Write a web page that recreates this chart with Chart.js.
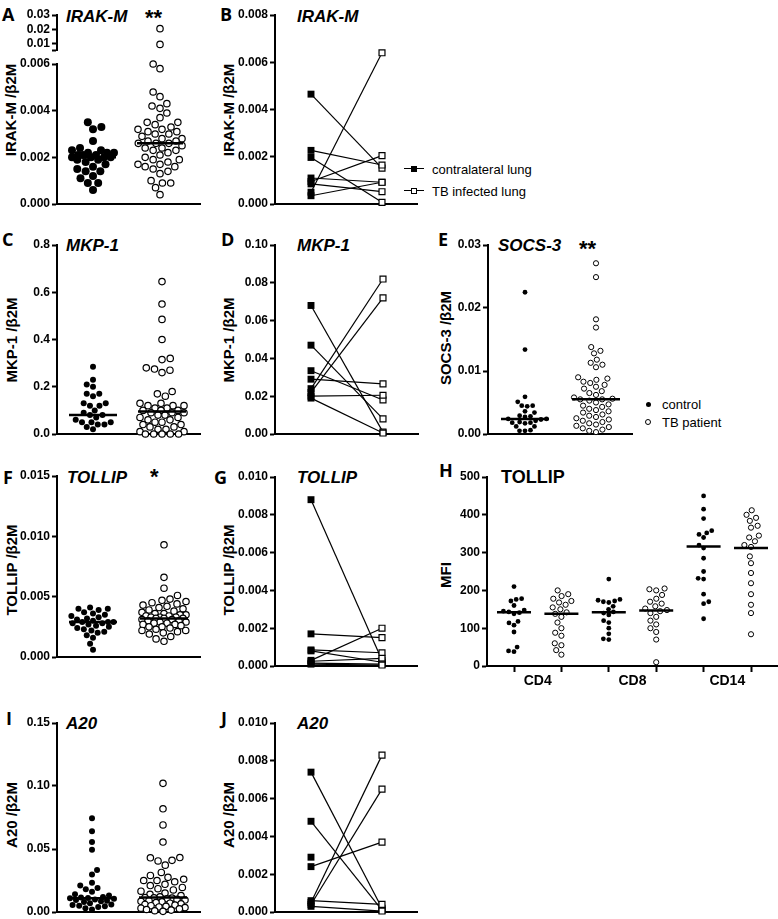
<!DOCTYPE html>
<html lang="en">
<head>
<meta charset="UTF-8">
<title>Negative regulators in TB</title>
<script src="https://cdn.jsdelivr.net/npm/chart.js"></script>
<style>
  body { margin: 0; background: #fff; }
  #fig { position: relative; width: 778px; height: 919px; overflow: hidden; font-family: "Liberation Sans", Arial, sans-serif; color: #000; }
  #fig canvas { position: absolute; }
  .lab { position: absolute; font-family: "Open Sans", sans-serif; font-weight: 700; font-size: 18px; line-height: 1; transform: translateY(-50%); }
  .gene { position: absolute; font-weight: 700; font-style: italic; font-size: 17px; line-height: 1; transform: translateY(-50%); white-space: nowrap; }
  .star { position: absolute; font-weight: 700; font-size: 22px; line-height: 1; }
  .ytl { position: absolute; font-weight: 700; font-size: 15px; line-height: 1; white-space: nowrap; transform: translate(-50%, -50%) rotate(-90deg); }
  .key { position: absolute; font-size: 13px; line-height: 1; white-space: nowrap; transform: translateY(-50%); }
  .mk { position: absolute; box-sizing: border-box; }
</style>
</head>
<body>
<div id="fig">
  <div class="lab" style="left:2px;top:14px">A</div>
  <div class="lab" style="left:220px;top:14px">B</div>
  <div class="lab" style="left:2px;top:239px">C</div>
  <div class="lab" style="left:221px;top:239px">D</div>
  <div class="lab" style="left:438px;top:239px">E</div>
  <div class="lab" style="left:3px;top:477px">F</div>
  <div class="lab" style="left:214px;top:477px">G</div>
  <div class="lab" style="left:439px;top:470px">H</div>
  <div class="lab" style="left:6px;top:718px">I</div>
  <div class="lab" style="left:221px;top:718px">J</div>

  <div class="gene" style="left:66px;top:16px">IRAK-M</div>
  <div class="gene" style="left:297px;top:16px">IRAK-M</div>
  <div class="gene" style="left:66px;top:245px">MKP-1</div>
  <div class="gene" style="left:297px;top:245px">MKP-1</div>
  <div class="gene" style="left:498px;top:245px">SOCS-3</div>
  <div class="gene" style="left:67px;top:477px">TOLLIP</div>
  <div class="gene" style="left:297px;top:477px">TOLLIP</div>
  <div class="gene" style="left:501px;top:477px;font-style:normal;font-size:18px">TOLLIP</div>
  <div class="gene" style="left:66px;top:723px">A20</div>
  <div class="gene" style="left:297px;top:723px">A20</div>

  <div class="star" style="left:145px;top:7px">**</div>
  <div class="star" style="left:579px;top:238px">**</div>
  <div class="star" style="left:150px;top:466px">*</div>

  <div class="ytl" style="left:10px;top:110px">IRAK-M /β2M</div>
  <div class="ytl" style="left:228px;top:110px">IRAK-M /β2M</div>
  <div class="ytl" style="left:11px;top:340px">MKP-1 /β2M</div>
  <div class="ytl" style="left:228px;top:340px">MKP-1 /β2M</div>
  <div class="ytl" style="left:445px;top:338px">SOCS-3 /β2M</div>
  <div class="ytl" style="left:11px;top:570px">TOLLIP /β2M</div>
  <div class="ytl" style="left:228px;top:570px">TOLLIP /β2M</div>
  <div class="ytl" style="left:445px;top:575px">MFI</div>
  <div class="ytl" style="left:11px;top:815px">A20 /β2M</div>
  <div class="ytl" style="left:228px;top:815px">A20 /β2M</div>

  <!-- legend B -->
  <div class="mk" style="left:404px;top:168px;width:20px;height:1.3px;background:#000"></div>
  <div class="mk" style="left:411px;top:166px;width:6px;height:6px;background:#000"></div>
  <div class="key" style="left:432px;top:169px">contralateral lung</div>
  <div class="mk" style="left:404px;top:190px;width:20px;height:1.3px;background:#000"></div>
  <div class="mk" style="left:411px;top:188px;width:6px;height:6px;background:#fff;border:1.2px solid #000"></div>
  <div class="key" style="left:432px;top:191px">TB infected lung</div>

  <!-- legend E -->
  <div class="mk" style="left:645.5px;top:401.5px;width:5px;height:5px;border-radius:50%;background:#000"></div>
  <div class="key" style="left:662px;top:404px">control</div>
  <div class="mk" style="left:645px;top:419px;width:6px;height:6px;border-radius:50%;background:#fff;border:1px solid #000"></div>
  <div class="key" style="left:662px;top:422px">TB patient</div>
</div>

<script>
// ---- data ----
// A: IRAK-M, control vs TB patient
const irakCtrl = [0.0035, 0.0033, 0.0032, 0.0027, 0.0024, 0.0023, 0.0023, 0.0022, 0.0022, 0.0022, 0.0021, 0.0021, 0.0021, 0.0020, 0.0020, 0.0020, 0.0020, 0.0019, 0.0019, 0.0018, 0.0017, 0.0016, 0.0015, 0.0014, 0.0014, 0.0012, 0.0011, 0.0009, 0.0009, 0.0006];
const irakTB = [0.0205, 0.0095, 0.0060, 0.0058, 0.0048, 0.0046, 0.0043, 0.0042, 0.0041, 0.0039, 0.0037, 0.0035, 0.0035, 0.0034, 0.0033, 0.0032, 0.0032, 0.0031, 0.0031, 0.0030, 0.0030, 0.0029, 0.0028, 0.0028, 0.0027, 0.0027, 0.0026, 0.0026, 0.0026, 0.0025, 0.0024, 0.0024, 0.0023, 0.0023, 0.0022, 0.0021, 0.0020, 0.0019, 0.0019, 0.0018, 0.0017, 0.0017, 0.0016, 0.0016, 0.0015, 0.0014, 0.0013, 0.0010, 0.0009, 0.0009, 0.0007, 0.0004];
const irakMed = [0.0020, 0.0026];
const irakTicks = [0, 0.002, 0.004, 0.006];
const irakTopTicks = [0.01, 0.02, 0.03];
// B: IRAK-M, contralateral vs infected lung (paired)
const irakLungC = [0.00465, 0.00227, 0.00197, 0.00110, 0.00095, 0.00085, 0.00050, 0.00035];
const irakLungT = [0.00152, 0.00165, 0.00007, 0.00092, 0.00205, 0.00052, 0.00640, 0.00092];
const irakLungTicks = [0, 0.002, 0.004, 0.006, 0.008];
// C: MKP-1
const mkpCtrl = [0.285, 0.23, 0.21, 0.20, 0.17, 0.17, 0.16, 0.13, 0.13, 0.12, 0.12, 0.10, 0.09, 0.08, 0.08, 0.07, 0.06, 0.05, 0.05, 0.05, 0.04, 0.04, 0.03, 0.02];
const mkpTB = [0.645, 0.55, 0.485, 0.40, 0.32, 0.315, 0.28, 0.275, 0.27, 0.26, 0.18, 0.17, 0.16, 0.13, 0.13, 0.12, 0.12, 0.12, 0.11, 0.11, 0.10, 0.10, 0.10, 0.09, 0.09, 0.09, 0.08, 0.08, 0.07, 0.07, 0.06, 0.06, 0.05, 0.05, 0.04, 0.04, 0.03, 0.03, 0.02, 0.02, 0.01, 0.01, 0.0, 0.0, 0.0, 0.0, 0.0];
const mkpMed = [0.080, 0.095];
const mkpTicks = [0, 0.2, 0.4, 0.6, 0.8];
// D: MKP-1 paired
const mkpLungC = [0.068, 0.047, 0.0335, 0.029, 0.024, 0.022, 0.020, 0.019];
const mkpLungT = [0.001, 0.008, 0.018, 0.0265, 0.082, 0.072, 0.0205, 0.0005];
const mkpLungTicks = [0, 0.02, 0.04, 0.06, 0.08, 0.10];
// E: SOCS-3
const socsCtrl = [0.0225, 0.0134, 0.0059, 0.0051, 0.0045, 0.0045, 0.0044, 0.0036, 0.0034, 0.0029, 0.0028, 0.0027, 0.0024, 0.0024, 0.0023, 0.0021, 0.0019, 0.0018, 0.0018, 0.0017, 0.0012, 0.0012, 0.0006, 0.0005, 0.0005];
const socsTB = [0.0271, 0.0249, 0.0182, 0.0169, 0.0138, 0.0132, 0.0128, 0.0118, 0.0113, 0.0110, 0.0106, 0.0090, 0.0088, 0.0086, 0.0083, 0.0081, 0.0078, 0.0075, 0.0072, 0.0068, 0.0065, 0.0062, 0.0058, 0.0056, 0.0055, 0.0055, 0.0053, 0.0050, 0.0047, 0.0045, 0.0043, 0.0040, 0.0038, 0.0036, 0.0034, 0.0031, 0.0029, 0.0027, 0.0025, 0.0023, 0.0021, 0.0019, 0.0017, 0.0015, 0.0013, 0.0011, 0.0009, 0.0007, 0.0005, 0.0003];
const socsMed = [0.0024, 0.0055];
const socsTicks = [0, 0.01, 0.02, 0.03];
// F: TOLLIP
const tollipCtrl = [0.0041, 0.0040, 0.0040, 0.0039, 0.0037, 0.0036, 0.0035, 0.0034, 0.0033, 0.0032, 0.0031, 0.0030, 0.0029, 0.0029, 0.0029, 0.0028, 0.0028, 0.0027, 0.0026, 0.0025, 0.0024, 0.0023, 0.0022, 0.0021, 0.0020, 0.0018, 0.0016, 0.0011, 0.0006];
const tollipTB = [0.0093, 0.0066, 0.0057, 0.0051, 0.0048, 0.0047, 0.0046, 0.0045, 0.0044, 0.0043, 0.0042, 0.0041, 0.0040, 0.0039, 0.0038, 0.0037, 0.0036, 0.0036, 0.0035, 0.0035, 0.0034, 0.0034, 0.0033, 0.0033, 0.0033, 0.0032, 0.0032, 0.0032, 0.0031, 0.0031, 0.0030, 0.0030, 0.0029, 0.0029, 0.0028, 0.0028, 0.0027, 0.0027, 0.0026, 0.0025, 0.0025, 0.0024, 0.0023, 0.0022, 0.0022, 0.0021, 0.0020, 0.0019, 0.0017, 0.0015, 0.0013];
const tollipMed = [0.0029, 0.0032];
const tollipTicks = [0, 0.005, 0.010, 0.015];
// G: TOLLIP paired
const tollipLungC = [0.0088, 0.0017, 0.00085, 0.0008, 0.0003, 0.00025, 0.00015, 0.0001];
const tollipLungT = [0.0003, 0.0015, 0.0007, 0.0002, 0.0020, 0.0004, 0.0001, 0.00005];
const tollipLungTicks = [0, 0.002, 0.004, 0.006, 0.008, 0.010];
// H: TOLLIP MFI by cell type
const mfiGroups = ['CD4', 'CD8', 'CD14'];
const mfiCD4Ctrl = [210, 178, 176, 172, 160, 148, 145, 143, 141, 138, 118, 114, 108, 90, 50, 40, 38];
const mfiCD4TB = [200, 190, 185, 178, 172, 168, 162, 155, 150, 142, 138, 130, 115, 100, 88, 80, 60, 55, 42, 30];
const mfiCD8Ctrl = [230, 176, 174, 172, 170, 168, 158, 150, 143, 140, 135, 120, 115, 100, 85, 72, 70];
const mfiCD8TB = [205, 203, 200, 188, 178, 170, 165, 158, 152, 148, 145, 140, 130, 120, 110, 100, 90, 70, 10];
const mfiCD14Ctrl = [450, 415, 390, 358, 352, 348, 340, 320, 312, 285, 250, 232, 230, 190, 170, 165, 125];
const mfiCD14TB = [412, 400, 392, 384, 371, 366, 345, 340, 330, 320, 315, 290, 272, 246, 219, 190, 162, 140, 84];
const mfiMed = [142, 138, 142, 147, 316, 312];
const mfiTicks = [0, 100, 200, 300, 400, 500];
// I: A20
const a20Ctrl = [0.0745, 0.064, 0.0555, 0.0495, 0.0333, 0.0298, 0.0233, 0.0210, 0.0190, 0.0180, 0.0160, 0.0140, 0.0130, 0.0120, 0.0115, 0.0112, 0.0110, 0.0105, 0.0100, 0.0095, 0.0090, 0.0085, 0.0080, 0.0070, 0.0060, 0.0055, 0.0050, 0.0045, 0.0040, 0.0030, 0.0020];
const a20TB = [0.1021, 0.0819, 0.0691, 0.0555, 0.0432, 0.0430, 0.0410, 0.0405, 0.0372, 0.0314, 0.0290, 0.0275, 0.0260, 0.0250, 0.0250, 0.0240, 0.0220, 0.0210, 0.0195, 0.0185, 0.0175, 0.0165, 0.0150, 0.0140, 0.0130, 0.0120, 0.0115, 0.0112, 0.0110, 0.0105, 0.0100, 0.0095, 0.0090, 0.0085, 0.0080, 0.0075, 0.0070, 0.0065, 0.0060, 0.0055, 0.0050, 0.0045, 0.0040, 0.0035, 0.0030, 0.0025, 0.0020, 0.0015, 0.0010, 0.0005];
const a20Med = [0.011, 0.0115];
const a20Ticks = [0, 0.05, 0.10, 0.15];
// J: A20 paired (null = no partner)
const a20LungC = [0.0074, 0.0048, 0.0029, 0.0024, 0.0006, 0.0005, 0.0004, 0.0003];
const a20LungT = [0.0002, 0.0001, null, 0.0037, 0.0004, 0.0083, 0.0065, 0.00005];
const a20LungTicks = [0, 0.002, 0.004, 0.006, 0.008, 0.010];

// ---- drawing ----
const fig = document.getElementById('fig');
const INK = '#000';
const NARROW = '"Liberation Sans Narrow", "Liberation Sans", Arial, sans-serif';

// marker looks (w = max half-width of a column, px)
const bigDot = { r: 4, open: false, w: 21 }, dot = { r: 3, open: false, w: 22 }, smallDot = { r: 2.4, open: false, w: 22 };
const ring = { r: 3.2, open: true, bw: 1.2, w: 22 }, smallRing = { r: 2.6, open: true, bw: 1, w: 22 };
const hDot = { r: 2.4, open: false, w: 14 }, hRing = { r: 2.6, open: true, bw: 1, w: 14 };

function frame(box) {
  const f = { yw: 50, pt: 11, pr: 4, xh: box.xh !== undefined ? box.xh : 11 };
  const c = document.createElement('canvas');
  const w = box.R - box.L + f.yw + f.pr, h = box.B - box.T + f.pt + f.xh;
  c.width = w; c.height = h;
  c.style.left = (box.L - f.yw) + 'px'; c.style.top = (box.T - f.pt) + 'px';
  c.style.width = w + 'px'; c.style.height = h + 'px';
  fig.appendChild(c);
  f.c = c;
  return f;
}

function xRange(box) {
  const c = box.cols, n = c.length;
  const px = (c[n - 1] - c[0]) / (n - 1);
  return { px, min: 1 - (c[0] - box.L) / px, max: n + (box.R - c[n - 1]) / px };
}

// beeswarm limited to a column width; offsets in pixels
function swarm(vals, pxY, r, maxW) {
  const d = 2 * r + 0.7;
  const order = vals.map((_, i) => i).sort((a, b) => vals[a] - vals[b]);
  const done = [], off = [];
  let side = 1;
  order.forEach(i => {
    const y = vals[i] * pxY;
    const near = done.filter(p => Math.abs(p.y - y) < d);
    const cands = [0];
    near.forEach(p => {
      const dx = Math.sqrt(d * d - (p.y - y) ** 2);
      cands.push(p.x + dx, p.x - dx);
    });
    const ok = cands.filter(cx => Math.abs(cx) <= maxW &&
      near.every(p => (p.x - cx) ** 2 + (p.y - y) ** 2 >= d * d - 0.01));
    let x = 0;
    if (ok.length) {
      ok.sort((a, b) => Math.abs(a) - Math.abs(b) || side * (b - a));
      x = ok[0];
    } else {
      let best = -1;
      for (let cx = -maxW; cx <= maxW; cx += 1) {
        const clr = Math.min(...near.map(p => Math.hypot(p.x - cx, p.y - y)));
        if (clr > best) { best = clr; x = cx; }
      }
    }
    side = -side;
    off[i] = x;
    done.push({ x, y });
  });
  return off;
}

function options(box, f, xr, ticks, fmt, xExtra) {
  return {
    responsive: false, animation: false, events: [],
    layout: { autoPadding: false, padding: { top: f.pt, right: f.pr, left: 0, bottom: 0 } },
    plugins: { legend: { display: false }, tooltip: { enabled: false } },
    scales: {
      x: Object.assign({
        type: 'linear', min: xr.min, max: xr.max,
        afterFit: s => { s.height = f.xh; },
        ticks: { display: false },
        grid: { display: false },
        border: { display: !box.noX, color: INK, width: 2 }
      }, xExtra || {}),
      y: {
        type: 'linear', min: box.y[0], max: box.y[1],
        afterFit: s => { s.width = f.yw; },
        afterBuildTicks: s => { s.ticks = (box.brk ? [box.y[0]] : []).concat(ticks).map(v => ({ value: v })); },
        ticks: { color: INK, font: { family: NARROW, size: 12, weight: 'bold' }, padding: 2, autoSkip: false,
                 callback: v => (box.brk && v === box.y[0]) ? '' : fmt(v) },
        grid: { drawOnChartArea: false, drawTicks: true, tickLength: 5, tickWidth: 2, tickColor: INK, color: INK },
        border: { display: true, color: INK, width: 2 }
      }
    }
  };
}

function dotPanel(box, groups, meds, looks, ticks, fmt, medHalf, xExtra) {
  const f = frame(box), xr = xRange(box);
  const pxY = (box.B - box.T) / (box.y[1] - box.y[0]);
  const sets = [];
  meds.forEach((m, k) => {
    sets.push({ data: [{ x: k + 1 - medHalf / xr.px, y: m }, { x: k + 1 + medHalf / xr.px, y: m }],
      showLine: true, borderColor: INK, borderWidth: 2.5, pointRadius: 0, clip: false });
  });
  groups.forEach((vals, k) => {
    const vis = vals.filter(v => v >= box.y[0] && v <= box.y[1]);
    const lk = looks[k % looks.length];
    const off = swarm(vis, pxY, lk.r + (lk.bw || 0) / 2, lk.w);
    sets.push({ data: vis.map((v, i) => ({ x: k + 1 + off[i] / xr.px, y: v })),
      pointRadius: lk.r, pointHoverRadius: lk.r,
      pointBackgroundColor: lk.open ? '#fff' : INK, pointBorderColor: INK,
      pointBorderWidth: lk.open ? lk.bw : 0, clip: false });
  });
  new Chart(f.c, { type: 'scatter', data: { datasets: sets }, options: options(box, f, xr, ticks, fmt, xExtra) });
}

function pairPanel(box, left, right, ticks, fmt) {
  const f = frame(box), xr = xRange(box);
  const sets = [
    { data: left.map(v => ({ x: 1, y: v })), pointStyle: 'rect', pointRadius: 4.9, pointHoverRadius: 4.9,
      pointBackgroundColor: INK, pointBorderWidth: 0, clip: false },
    { data: right.filter(v => v !== null).map(v => ({ x: 2, y: v })), pointStyle: 'rect', pointRadius: 4.2, pointHoverRadius: 4.2,
      pointBackgroundColor: '#fff', pointBorderColor: INK, pointBorderWidth: 1.2, clip: false }
  ];
  left.forEach((v, i) => {
    if (right[i] === null) return;
    sets.push({ data: [{ x: 1, y: v }, { x: 2, y: right[i] }], showLine: true,
      borderColor: INK, borderWidth: 1.2, pointRadius: 0, clip: false });
  });
  new Chart(f.c, { type: 'scatter', data: { datasets: sets }, options: options(box, f, xr, ticks, fmt) });
}

const fx = n => v => v.toFixed(n);

// A (broken axis: upper and lower parts)
dotPanel({ L: 57, T: 15, R: 200, B: 50, y: [0.0056, 0.03], cols: [93, 160], brk: true, noX: true },
  [irakCtrl, irakTB.filter(v => v > 0.007)], [], [bigDot, ring], irakTopTicks, fx(2), 23);
dotPanel({ L: 57, T: 64, R: 200, B: 204, y: [0, 0.006], cols: [93, 160] },
  [irakCtrl, irakTB], irakMed, [bigDot, ring], irakTicks, fx(3), 23);
// B
pairPanel({ L: 275, T: 15, R: 417, B: 204, y: [0, 0.008], cols: [311, 382] }, irakLungC, irakLungT, irakLungTicks, fx(3));
// C
dotPanel({ L: 57, T: 245, R: 200, B: 434, y: [0, 0.8], cols: [93, 162] },
  [mkpCtrl, mkpTB], mkpMed, [dot, ring], mkpTicks, fx(1), 24);
// D
pairPanel({ L: 275, T: 245, R: 418, B: 434, y: [0, 0.10], cols: [311, 383] }, mkpLungC, mkpLungT, mkpLungTicks, fx(2));
// E
dotPanel({ L: 488, T: 245, R: 632, B: 434, y: [0, 0.03], cols: [525, 596] },
  [socsCtrl, socsTB], socsMed, [smallDot, smallRing], socsTicks, fx(2), 24);
// F
dotPanel({ L: 57, T: 476, R: 200, B: 657, y: [0, 0.015], cols: [93, 164] },
  [tollipCtrl, tollipTB], tollipMed, [dot, ring], tollipTicks, fx(3), 24);
// G
pairPanel({ L: 275, T: 477, R: 417, B: 666, y: [0, 0.010], cols: [311, 382] }, tollipLungC, tollipLungT, tollipLungTicks, fx(3));
// H
dotPanel({ L: 487, T: 477, R: 777, B: 666, y: [0, 500], cols: [514, 562, 608, 657, 704, 751], xh: 30 },
  [mfiCD4Ctrl, mfiCD4TB, mfiCD8Ctrl, mfiCD8TB, mfiCD14Ctrl, mfiCD14TB], mfiMed, [hDot, hRing], mfiTicks, fx(0), 17,
  {
    afterBuildTicks: s => { s.ticks = [1, 1.5, 2, 3, 3.5, 4, 5, 5.5, 6].map(v => ({ value: v })); },
    ticks: { display: true, autoSkip: false, maxRotation: 0, color: INK, padding: 1,
             font: { family: '"Liberation Sans", Arial, sans-serif', size: 14, weight: 'bold' },
             callback: v => Number.isInteger(v) ? '' : mfiGroups[(v - 1.5) / 2] },
    grid: { display: true, drawOnChartArea: false, drawTicks: true, tickLength: 6, tickWidth: 2,
            tickColor: c => Number.isInteger(c.tick.value) ? INK : 'rgba(0,0,0,0)' }
  });
// I
dotPanel({ L: 57, T: 723, R: 200, B: 912, y: [0, 0.15], cols: [92, 163] },
  [a20Ctrl, a20TB], a20Med, [dot, ring], a20Ticks, fx(2), 24);
// J
pairPanel({ L: 275, T: 723, R: 417, B: 912, y: [0, 0.010], cols: [311, 382] }, a20LungC, a20LungT, a20LungTicks, fx(3));
</script>
</body>
</html>
